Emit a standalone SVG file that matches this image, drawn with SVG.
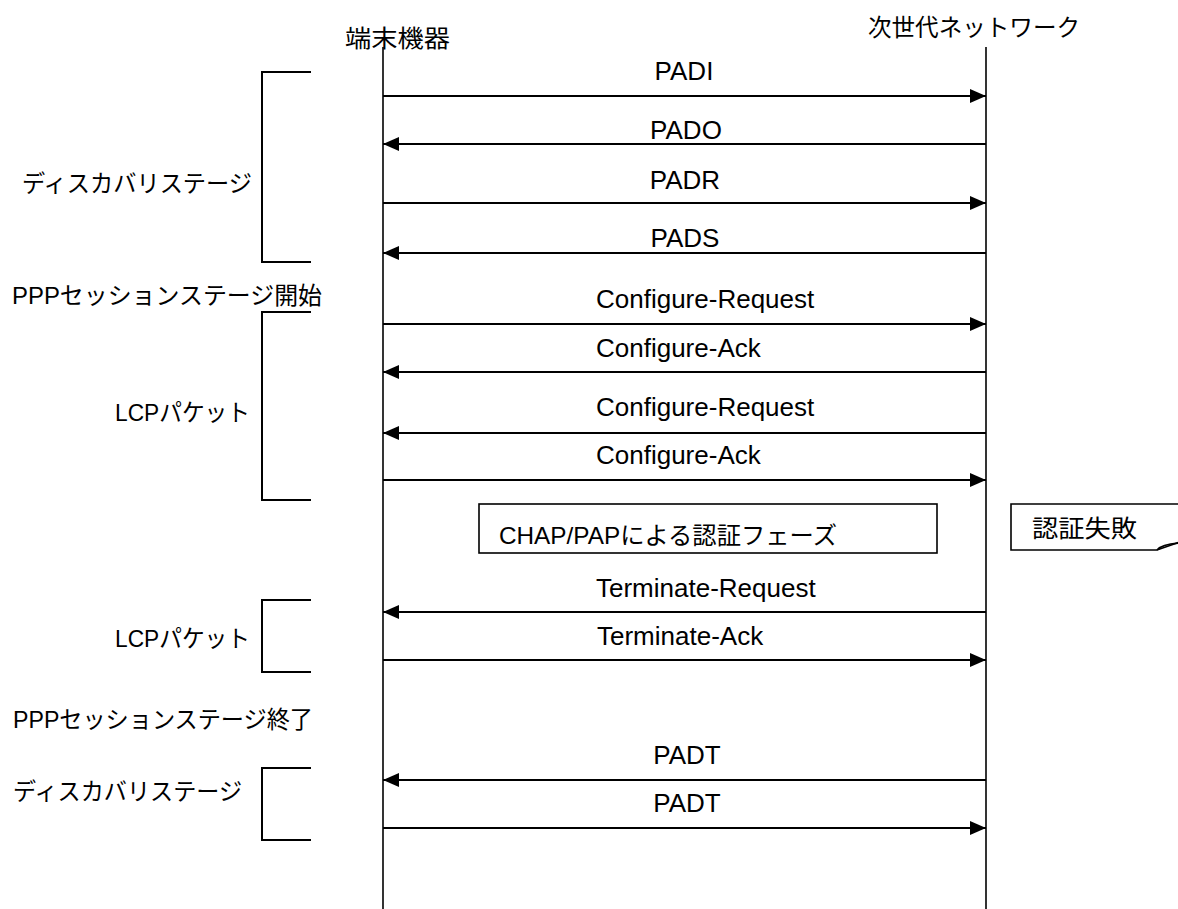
<svg xmlns="http://www.w3.org/2000/svg" width="1178" height="909" viewBox="0 0 1178 909">
<defs>
<style>
text{font-family:"Liberation Sans","Noto Sans CJK JP",sans-serif;font-size:24px;fill:#000}
.msg{font-size:26px}
.ln{stroke:#000;stroke-width:2;fill:none}
.lf{stroke:#000;stroke-width:1.6;fill:none}
</style>
<marker id="ah" viewBox="0 0 16 14" refX="16" refY="7" markerWidth="16" markerHeight="14" markerUnits="userSpaceOnUse" orient="auto">
<path d="M0,0 L16,7 L0,14 Z" fill="#000"/>
</marker>
</defs>
<rect width="1178" height="909" fill="#fff"/>
<g id="terminal">
<text x="345" y="47" textLength="105" lengthAdjust="spacingAndGlyphs">端末機器</text>
<line class="lf" x1="383" y1="47" x2="383" y2="909"/>
</g>
<g id="network">
<text x="868" y="36" textLength="212" lengthAdjust="spacingAndGlyphs">次世代ネットワーク</text>
<line class="lf" x1="986" y1="47" x2="986" y2="909"/>
</g>
<g id="brackets">
<path class="ln" d="M311,72 H262 V262 H311"/>
<path class="ln" d="M311,312 H262 V500 H311"/>
<path class="ln" d="M311,600 H262 V672 H311"/>
<path class="ln" d="M311,768 H262 V840 H311"/>
</g>
<g id="stage-labels">
<text x="22" y="192" textLength="230" lengthAdjust="spacingAndGlyphs">ディスカバリステージ</text>
<text x="12" y="304" textLength="310" lengthAdjust="spacingAndGlyphs">PPPセッションステージ開始</text>
<text x="115" y="421" textLength="135" lengthAdjust="spacingAndGlyphs">LCPパケット</text>
<text x="115" y="647" textLength="135" lengthAdjust="spacingAndGlyphs">LCPパケット</text>
<text x="13" y="728" textLength="300" lengthAdjust="spacingAndGlyphs">PPPセッションステージ終了</text>
<text x="13" y="800" textLength="229" lengthAdjust="spacingAndGlyphs">ディスカバリステージ</text>
</g>
<g id="auth-phase">
<rect class="lf" x="479" y="504" width="458" height="49"/>
<text x="499" y="544" textLength="338" lengthAdjust="spacingAndGlyphs">CHAP/PAPによる認証フェーズ</text>
</g>
<g id="auth-fail">
<path class="lf" d="M1180,504 H1011 V550 H1157 L1180,542"/>
<path class="lf" d="M1157,550 Q1162,544 1180,543"/>
<text x="1032" y="537" textLength="105" lengthAdjust="spacingAndGlyphs">認証失敗</text>
</g>
<g id="connectors">
<line class="ln" x1="383" y1="96" x2="986" y2="96" marker-end="url(#ah)"/>
<line class="ln" x1="986" y1="144" x2="383" y2="144" marker-end="url(#ah)"/>
<line class="ln" x1="383" y1="203" x2="986" y2="203" marker-end="url(#ah)"/>
<line class="ln" x1="986" y1="253" x2="383" y2="253" marker-end="url(#ah)"/>
<line class="ln" x1="383" y1="324" x2="986" y2="324" marker-end="url(#ah)"/>
<line class="ln" x1="986" y1="372" x2="383" y2="372" marker-end="url(#ah)"/>
<line class="ln" x1="986" y1="433" x2="383" y2="433" marker-end="url(#ah)"/>
<line class="ln" x1="383" y1="480" x2="986" y2="480" marker-end="url(#ah)"/>
<line class="ln" x1="986" y1="612" x2="383" y2="612" marker-end="url(#ah)"/>
<line class="ln" x1="383" y1="660" x2="986" y2="660" marker-end="url(#ah)"/>
<line class="ln" x1="986" y1="780" x2="383" y2="780" marker-end="url(#ah)"/>
<line class="ln" x1="383" y1="828" x2="986" y2="828" marker-end="url(#ah)"/>
</g>
<g id="message-labels">
<text class="msg" x="684" y="80" text-anchor="middle">PADI</text>
<text class="msg" x="686" y="139" text-anchor="middle">PADO</text>
<text class="msg" x="685" y="189" text-anchor="middle">PADR</text>
<text class="msg" x="685" y="247" text-anchor="middle">PADS</text>
<text class="msg" x="596" y="308">Configure-Request</text>
<text class="msg" x="596" y="357">Configure-Ack</text>
<text class="msg" x="596" y="416">Configure-Request</text>
<text class="msg" x="596" y="464">Configure-Ack</text>
<text class="msg" x="596" y="597">Terminate-Request</text>
<text class="msg" x="597" y="645">Terminate-Ack</text>
<text class="msg" x="687" y="764" text-anchor="middle">PADT</text>
<text class="msg" x="687" y="812" text-anchor="middle">PADT</text>
</g>
</svg>
